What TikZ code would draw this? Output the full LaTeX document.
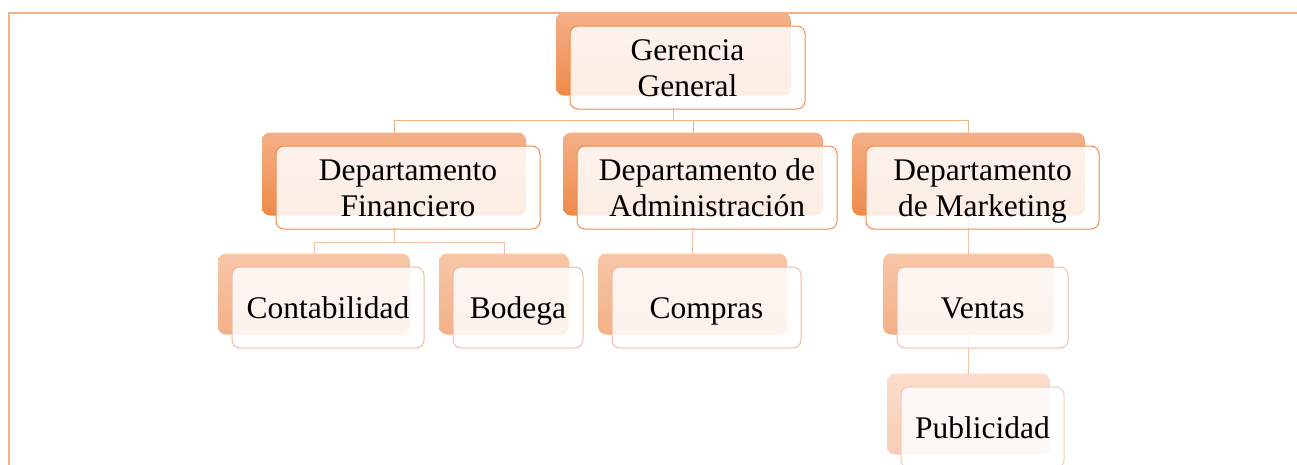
\documentclass[tikz,border=0pt]{standalone}
\usepackage{fontspec}
\setmainfont{Liberation Serif}
\usetikzlibrary{backgrounds,calc}
\definecolor{frameC}{HTML}{F4B183}
\definecolor{lineA}{HTML}{F4B183}
\definecolor{lineB}{HTML}{F5C0A8}
\definecolor{backAtop}{HTML}{F5B088}
\definecolor{backAbot}{HTML}{EE8A48}
\definecolor{backBtop}{HTML}{F7C7A8}
\definecolor{backBbot}{HTML}{F3B086}
\definecolor{backCtop}{HTML}{FADDCC}
\definecolor{backCbot}{HTML}{F8CDB4}
\definecolor{edgeA}{HTML}{EE8C50}
\definecolor{edgeB}{HTML}{F4B9A3}
\definecolor{edgeC}{HTML}{F7C9B6}
\newcommand\mystrut{\rule[-7pt]{0pt}{35pt}}
\tikzset{
  backA/.style={shade, top color=backAtop, bottom color=backAbot},
  backB/.style={shade, top color=backBtop, bottom color=backBbot},
  backC/.style={shade, top color=backCtop, bottom color=backCbot},
  boxbase/.style={rounded corners=8pt, inner sep=0pt, outer sep=0pt},
  frontbox/.style={boxbase, draw=#1, line width=1pt, fill=white, fill opacity=0.85,
    text opacity=1, align=center, font=\fontsize{31.5}{32.5}\selectfont},
  conA/.style={draw=lineA, line width=1pt},
  conB/.style={draw=lineB, line width=1pt},
}
\newcommand\orgbox[8]{%
  \node[boxbase, #6, minimum width=#4pt, minimum height=#5pt] (#1b) at (#2-14,#3-13.5) {};
  \node[frontbox=#7, minimum width=#4pt, minimum height=#5pt] (#1) at (#2,#3) {\mystrut#8\mystrut};
}
\begin{document}
\begin{tikzpicture}[x=1pt,y=-1pt]
\useasboundingbox (0,0) rectangle (1297,464);
\draw[frameC, line width=2pt] (8.5,470) -- (8.5,12.5) -- (1300,12.5);

\orgbox{gg}{687.5}{67.5}{235}{83}{backA}{edgeA}{Gerencia\\General}
\orgbox{fin}{408}{187.5}{264}{83}{backA}{edgeA}{Departamento\\Financiero}
\orgbox{adm}{707}{187.5}{260}{83}{backA}{edgeA}{Departamento de\\Administración}
\orgbox{mkt}{982.5}{187.5}{233}{83}{backA}{edgeA}{Departamento\\de Marketing}
\orgbox{con}{328}{307.5}{192}{81}{backB}{edgeB}{Contabilidad}
\orgbox{bod}{518}{307.5}{130}{81}{backB}{edgeB}{Bodega}
\orgbox{com}{706.5}{307.5}{189}{81}{backB}{edgeB}{Compras}
\orgbox{ven}{982.5}{307.5}{171}{81}{backB}{edgeB}{Ventas}
\orgbox{pub}{982.5}{427.5}{163}{81}{backC}{edgeC}{Publicidad}

\begin{scope}[on background layer]
  \coordinate (h1) at ($(ggb.south)+(0,25)$);
  \draw[conA] (ggb.south) -- (h1);
  \draw[conA] (finb.north) |- (h1) -| (mktb.north);
  \draw[conA] (h1 -| admb.north) -- (admb.north);
  \coordinate (h2) at ($(finb.south)+(0,27)$);
  \draw[conB] (finb.south) -- (h2);
  \draw[conB] (conb.north) |- (h2) -| (bodb.north);
  \draw[conB] (admb.south) -- (comb.north);
  \draw[conB] (mktb.south) -- (venb.north);
  \draw[conB] (venb.south) -- (pubb.north);
\end{scope}
\end{tikzpicture}
\end{document}
